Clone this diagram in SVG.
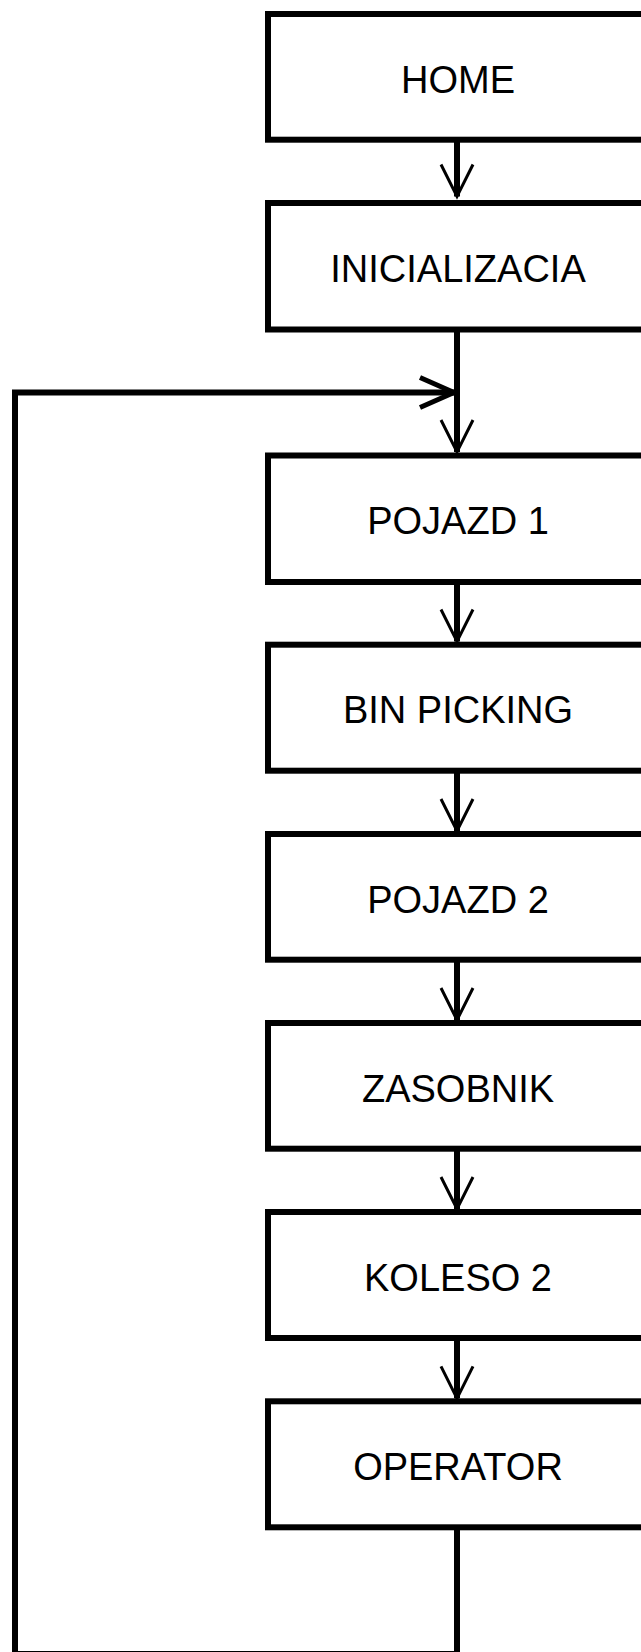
<svg xmlns="http://www.w3.org/2000/svg" width="641" height="1652" viewBox="0 0 641 1652">
  <style>
    .box { fill: #ffffff; stroke: #000000; stroke-width: 6; }
    .label { font-family: "Liberation Sans", Arial, sans-serif; font-size: 38px; fill: #000000; text-anchor: middle; }
    .flow { fill: none; stroke: #000000; stroke-width: 6; }
  </style>
  <defs>
    <marker id="vee" viewBox="-36 -20 40 40" refX="0" refY="0" markerWidth="40" markerHeight="40" markerUnits="userSpaceOnUse" orient="auto">
      <path d="M-32,-16 L0,0 L-32,16" fill="none" stroke="#000000" stroke-width="3"/>
    </marker>
    <marker id="vee-bold" viewBox="-40 -22 44 44" refX="0" refY="0" markerWidth="44" markerHeight="44" markerUnits="userSpaceOnUse" orient="auto">
      <path d="M-35,-15 L-1,0 L-35,15" fill="none" stroke="#000000" stroke-width="5"/>
    </marker>
  </defs>
  <rect width="641" height="1652" fill="#ffffff"/>

  <g id="connectors">
    <path class="flow" d="M457,139.7 V196.5" marker-end="url(#vee)"/>
    <path class="flow" d="M457,329.5 V452" marker-end="url(#vee)"/>
    <path class="flow" d="M457,582 V641.5" marker-end="url(#vee)"/>
    <path class="flow" d="M457,770.7 V831" marker-end="url(#vee)"/>
    <path class="flow" d="M457,959.7 V1020" marker-end="url(#vee)"/>
    <path class="flow" d="M457,1148.7 V1209" marker-end="url(#vee)"/>
    <path class="flow" d="M457,1338 V1398.3" marker-end="url(#vee)"/>
    <path class="flow" d="M457,1527.3 V1654 H15 V392.5 H455" marker-end="url(#vee-bold)"/>
  </g>

  <g id="home">
    <rect class="box" x="268" y="14" width="378" height="125.7"/>
    <text class="label" x="458" y="92.7">HOME</text>
  </g>
  <g id="inicializacia">
    <rect class="box" x="268" y="203" width="378" height="126.5"/>
    <text class="label" x="458" y="281.7">INICIALIZACIA</text>
  </g>
  <g id="pojazd-1">
    <rect class="box" x="268" y="455.5" width="378" height="126.5"/>
    <text class="label" x="458" y="534.2">POJAZD 1</text>
  </g>
  <g id="bin-picking">
    <rect class="box" x="268" y="644.7" width="378" height="126"/>
    <text class="label" x="458" y="723.2">BIN PICKING</text>
  </g>
  <g id="pojazd-2">
    <rect class="box" x="268" y="834" width="378" height="125.7"/>
    <text class="label" x="458" y="912.5">POJAZD 2</text>
  </g>
  <g id="zasobnik">
    <rect class="box" x="268" y="1023" width="378" height="125.7"/>
    <text class="label" x="458" y="1101.5">ZASOBNIK</text>
  </g>
  <g id="koleso-2">
    <rect class="box" x="268" y="1212" width="378" height="126"/>
    <text class="label" x="458" y="1290.5">KOLESO 2</text>
  </g>
  <g id="operator">
    <rect class="box" x="268" y="1401.3" width="378" height="126"/>
    <text class="label" x="458" y="1479.5">OPERATOR</text>
  </g>
</svg>
